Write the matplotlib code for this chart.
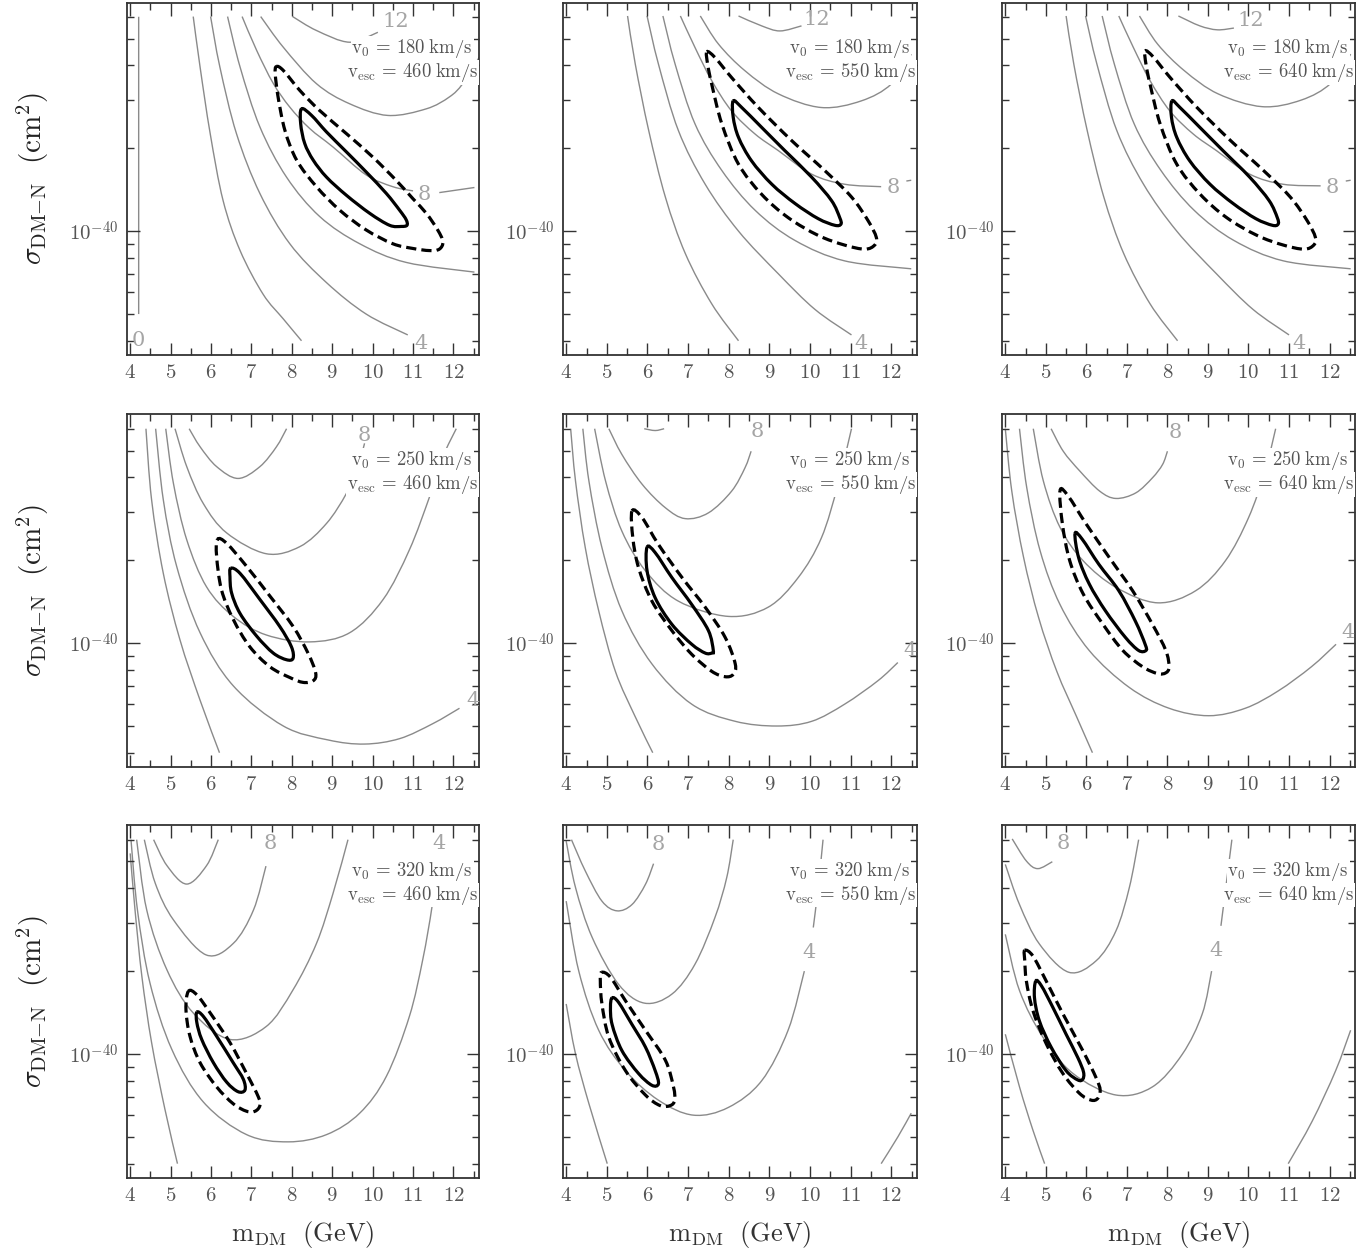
import numpy as np
import matplotlib
matplotlib.use("Agg")
import matplotlib.pyplot as plt
from matplotlib.path import Path
from matplotlib.patches import PathPatch
from matplotlib.ticker import FixedLocator, NullFormatter, FixedFormatter

plt.rcParams['mathtext.fontset'] = 'cm'
plt.rcParams['font.family'] = 'serif'

# halo parameters of each row / column
V0 = [180, 250, 320]
VESC = [460, 550, 640]

# all cross sections in units of 1e-40 cm^2, masses in GeV
# ---------------- row 1, v0 = 180 ----------------
gray_11 = [
    ([4.21, 4.21], [6.0, 0.50]),
    ([5.56, 5.73, 5.98, 6.30, 6.72, 7.29, 7.79, 8.24], [6.01, 3.94, 2.26, 1.29, 0.85, 0.59, 0.48, 0.40]),
    ([5.99, 6.22, 6.63, 7.21, 7.95, 8.86, 9.84, 10.87], [6.01, 3.94, 2.26, 1.37, 0.90, 0.65, 0.50, 0.42]),
    ([6.41, 6.72, 7.21, 7.87, 8.69, 9.68, 10.83, 12.52], [6.01, 3.94, 2.39, 1.57, 1.13, 0.90, 0.77, 0.71]),
    ([6.77, 7.13, 7.54, 7.95, 8.44, 9.02, 9.84, 10.50, 11.0], [6.01, 4.53, 3.44, 2.82, 2.36, 2.02, 1.60, 1.45, 1.40]),
    ([11.65, 12.52], [1.38, 1.44]),
    ([7.23, 7.79, 8.61, 9.43, 10.38, 11.33, 11.90, 12.23, 12.64], [6.01, 4.65, 3.43, 2.90, 2.63, 2.78, 3.07, 3.43, 4.28]),
    ([8.02, 8.61, 9.43, 10.13], [6.01, 5.35, 4.85, 5.27]),
]
labels_11 = [('0', 4.21, 0.40), ('4', 11.20, 0.39), ('8', 11.28, 1.36), ('12', 10.58, 5.78)]
solid_11_m = [8.24, 8.49, 8.86, 9.35, 9.84, 10.34, 10.67, 10.83, 10.85, 10.71, 10.42, 9.93, 9.35, 8.86, 8.53, 8.32, 8.22, 8.24]
solid_11_s = [2.78, 2.63, 2.29, 1.94, 1.64, 1.37, 1.19, 1.10, 1.05, 1.04, 1.05, 1.16, 1.35, 1.57, 1.81, 2.08, 2.45, 2.78]
dash_11_m = [7.62, 7.79, 8.20, 8.69, 9.35, 10.0, 10.58, 11.0, 11.33, 11.61, 11.74, 11.65, 11.41, 11.0, 10.50, 9.84, 9.19, 8.61, 8.12, 7.83, 7.66, 7.59, 7.62]
dash_11_s = [3.96, 3.83, 3.24, 2.74, 2.26, 1.86, 1.53, 1.31, 1.16, 1.01, 0.915, 0.86, 0.85, 0.865, 0.90, 1.01, 1.19, 1.45, 1.81, 2.32, 3.07, 3.73, 3.96]

gray_12 = [
    ([5.51, 5.70, 6.03, 6.44, 6.93, 7.58, 8.24], [6.04, 4.04, 2.32, 1.33, 0.83, 0.545, 0.40]),
    ([5.99, 6.27, 6.76, 7.42, 8.24, 9.22, 10.12, 11.02], [6.04, 4.04, 2.32, 1.48, 1.0, 0.70, 0.52, 0.42]),
    ([6.38, 6.68, 7.17, 7.83, 8.65, 9.63, 10.85, 12.49], [6.04, 4.04, 2.45, 1.66, 1.19, 0.925, 0.78, 0.73]),
    ([6.81, 7.17, 7.58, 8.07, 8.65, 9.22, 10.04, 10.85, 11.75], [6.04, 4.64, 3.52, 2.73, 2.25, 1.96, 1.61, 1.48, 1.45]),
    ([12.37, 12.49], [1.52, 1.53]),
    ([7.30, 7.75, 8.40, 9.22, 10.28, 11.26, 12.0, 12.49], [6.04, 4.77, 3.82, 3.15, 2.81, 2.97, 3.42, 4.39]),
    ([8.24, 8.81, 9.26, 9.79], [6.04, 5.56, 5.33, 5.56]),
]
labels_12 = [('4', 11.26, 0.39), ('8', 12.04, 1.44), ('12', 10.16, 5.88)]
solid_12_m = [8.11, 8.32, 8.81, 9.38, 10.04, 10.53, 10.73, 10.76, 10.61, 10.20, 9.63, 9.06, 8.56, 8.24, 8.11, 8.11]
solid_12_s = [2.97, 2.81, 2.38, 1.96, 1.57, 1.29, 1.12, 1.06, 1.05, 1.11, 1.26, 1.48, 1.80, 2.19, 2.59, 2.97]
dash_12_m = [7.46, 7.66, 8.07, 8.73, 9.55, 10.36, 11.02, 11.43, 11.63, 11.59, 11.35, 10.85, 10.20, 9.46, 8.81, 8.24, 7.83, 7.58, 7.48, 7.46]
dash_12_s = [4.48, 4.27, 3.61, 2.81, 2.13, 1.66, 1.33, 1.09, 0.95, 0.89, 0.86, 0.89, 0.965, 1.12, 1.36, 1.75, 2.45, 3.42, 4.04, 4.48]

gray_13 = [
    ([5.50, 5.69, 6.02, 6.43, 6.92, 7.57, 8.25], [6.04, 4.04, 2.32, 1.33, 0.83, 0.545, 0.40]),
    ([5.98, 6.26, 6.75, 7.41, 8.23, 9.21, 10.11, 11.0], [6.04, 4.04, 2.32, 1.48, 1.0, 0.70, 0.52, 0.42]),
    ([6.39, 6.69, 7.18, 7.84, 8.66, 9.64, 10.86, 12.52], [6.04, 4.04, 2.45, 1.66, 1.19, 0.925, 0.78, 0.73]),
    ([6.80, 7.16, 7.57, 8.06, 8.64, 9.21, 10.03, 10.85, 11.78], [6.04, 4.64, 3.52, 2.73, 2.25, 1.96, 1.61, 1.48, 1.46]),
    ([12.40, 12.52], [1.52, 1.53]),
    ([7.31, 7.76, 8.42, 9.25, 10.34, 11.30, 12.03, 12.52], [6.04, 4.77, 3.82, 3.15, 2.83, 2.99, 3.44, 4.39]),
    ([8.27, 8.80, 9.23, 9.64], [6.04, 5.56, 5.38, 5.46]),
]
labels_13 = [('4', 11.24, 0.39), ('8', 12.06, 1.44), ('12', 10.05, 5.80)]
solid_13_m = [8.11, 8.31, 8.80, 9.37, 10.03, 10.51, 10.71, 10.73, 10.59, 10.18, 9.62, 9.05, 8.55, 8.23, 8.10, 8.11]
solid_13_s = [2.97, 2.81, 2.38, 1.96, 1.57, 1.29, 1.12, 1.06, 1.05, 1.11, 1.26, 1.48, 1.80, 2.19, 2.59, 2.97]
dash_13_m = [7.45, 7.65, 8.06, 8.73, 9.56, 10.37, 11.03, 11.45, 11.65, 11.61, 11.37, 10.86, 10.21, 9.46, 8.81, 8.23, 7.82, 7.57, 7.47, 7.45]
dash_13_s = [4.51, 4.29, 3.62, 2.81, 2.13, 1.66, 1.33, 1.09, 0.95, 0.89, 0.86, 0.89, 0.965, 1.12, 1.36, 1.75, 2.45, 3.42, 4.04, 4.51]

# ---------------- row 2, v0 = 250 ----------------
gray_21 = [
    ([4.39, 4.53, 4.82, 5.23, 5.73, 6.21], [6.0, 3.31, 1.79, 1.03, 0.62, 0.40]),
    ([4.63, 4.82, 5.15, 5.73, 6.55, 7.79, 8.90, 9.80, 10.67, 11.49, 12.15], [6.0, 3.31, 1.90, 1.09, 0.70, 0.50, 0.445, 0.43, 0.45, 0.51, 0.58]),
    ([4.88, 5.07, 5.40, 5.89, 6.55, 7.37, 8.44, 9.43, 10.26, 10.91, 11.41, 11.74, 12.07], [6.0, 3.80, 2.37, 1.60, 1.25, 1.07, 1.01, 1.09, 1.44, 2.18, 3.40, 4.75, 6.0]),
    ([5.11, 5.40, 5.81, 6.39, 7.37, 8.20, 8.86, 9.35, 9.64, 9.80], [6.0, 4.37, 3.21, 2.51, 2.11, 2.24, 2.72, 3.49, 4.37, 5.31]),
    ([5.46, 5.73, 6.14, 6.67, 7.21, 7.62, 7.87], [6.0, 5.16, 4.37, 3.96, 4.37, 5.16, 6.0]),
]
labels_21 = [('4', 12.48, 0.62), ('8', 9.80, 5.69)]
solid_21_m = [6.49, 6.72, 7.21, 7.70, 7.99, 8.03, 7.87, 7.54, 7.13, 6.72, 6.51, 6.47, 6.49]
solid_21_s = [1.87, 1.79, 1.44, 1.15, 0.97, 0.88, 0.87, 0.92, 1.06, 1.28, 1.52, 1.74, 1.87]
dash_21_m = [6.16, 6.39, 6.88, 7.46, 8.03, 8.40, 8.59, 8.53, 8.28, 7.95, 7.46, 6.96, 6.55, 6.26, 6.14, 6.16]
dash_21_s = [2.38, 2.30, 1.90, 1.48, 1.15, 0.92, 0.78, 0.73, 0.72, 0.75, 0.82, 0.97, 1.22, 1.56, 2.06, 2.38]

gray_22 = [
    ([4.11, 4.23, 4.47, 4.80, 5.21, 5.70, 6.13], [6.0, 3.87, 2.22, 1.31, 0.79, 0.54, 0.40]),
    ([4.41, 4.56, 4.88, 5.37, 6.11, 7.09, 8.16, 9.18, 10.04, 10.85, 11.67, 12.16], [6.0, 3.87, 2.22, 1.31, 0.84, 0.60, 0.52, 0.50, 0.52, 0.60, 0.73, 0.85]),
    ([4.70, 4.97, 5.37, 5.95, 6.76, 7.99, 8.97, 9.71, 10.28, 10.69, 11.02], [6.0, 3.87, 2.55, 1.83, 1.42, 1.25, 1.35, 1.73, 2.41, 3.77, 6.0]),
    ([5.05, 5.37, 5.87, 6.44, 6.93, 7.50, 8.07, 8.40, 8.55], [6.0, 4.84, 3.77, 3.10, 2.83, 2.97, 3.56, 4.33, 4.97]),
    ([5.92, 6.19, 6.41], [6.0, 5.91, 6.0]),
]
labels_22 = [('4', 12.45, 0.94), ('8', 8.69, 5.88)]
solid_22_m = [5.99, 6.19, 6.60, 7.09, 7.50, 7.62, 7.58, 7.42, 7.09, 6.60, 6.19, 5.99, 5.99]
solid_22_s = [2.23, 2.13, 1.73, 1.38, 1.11, 0.94, 0.92, 0.92, 0.99, 1.17, 1.46, 1.83, 2.23]
dash_22_m = [5.62, 5.87, 6.27, 6.85, 7.42, 7.91, 8.16, 8.11, 7.91, 7.58, 7.09, 6.60, 6.11, 5.78, 5.64, 5.62]
dash_22_s = [3.02, 2.85, 2.28, 1.73, 1.35, 1.05, 0.84, 0.77, 0.755, 0.79, 0.91, 1.11, 1.42, 1.88, 2.41, 3.02]

gray_23 = [
    ([4.0, 4.16, 4.45, 4.82, 5.27, 5.76, 6.15], [6.0, 3.56, 2.05, 1.24, 0.79, 0.54, 0.40]),
    ([4.35, 4.53, 4.86, 5.35, 6.07, 7.06, 8.04, 9.02, 9.92, 10.73, 11.55, 12.16], [6.0, 3.66, 2.16, 1.38, 0.94, 0.69, 0.58, 0.545, 0.58, 0.67, 0.82, 0.99]),
    ([4.69, 4.94, 5.35, 5.92, 6.74, 7.76, 8.70, 9.43, 10.0, 10.41, 10.67], [6.0, 3.87, 2.63, 1.99, 1.59, 1.40, 1.55, 1.99, 2.85, 4.21, 6.0]),
    ([5.13, 5.43, 5.84, 6.33, 6.73, 7.22, 7.63, 7.88, 8.0], [6.0, 4.97, 4.21, 3.56, 3.35, 3.51, 3.98, 4.45, 4.97]),
]
labels_23 = [('4', 12.45, 1.09), ('8', 8.19, 5.80)]
solid_23_m = [5.72, 5.90, 6.31, 6.80, 7.21, 7.45, 7.47, 7.29, 6.96, 6.47, 6.07, 5.81, 5.72]
solid_23_s = [2.50, 2.38, 1.93, 1.55, 1.20, 0.99, 0.94, 0.94, 1.05, 1.31, 1.64, 2.04, 2.50]
dash_23_m = [5.35, 5.55, 6.0, 6.57, 7.14, 7.63, 7.96, 8.04, 7.96, 7.76, 7.39, 6.90, 6.41, 5.92, 5.59, 5.41, 5.35]
dash_23_s = [3.58, 3.42, 2.70, 2.04, 1.55, 1.17, 0.94, 0.82, 0.78, 0.775, 0.82, 0.94, 1.17, 1.51, 1.99, 2.70, 3.58]

# ---------------- row 3, v0 = 320 ----------------
gray_31 = [
    ([4.0, 4.12, 4.29, 4.53, 4.86, 5.17], [5.35, 3.33, 1.91, 1.10, 0.63, 0.40]),
    ([4.02, 4.18, 4.49, 5.03, 5.81, 6.88, 7.91, 8.86, 9.68, 10.34, 10.91, 11.24, 11.47, 11.57], [6.0, 3.33, 1.81, 1.04, 0.67, 0.51, 0.48, 0.51, 0.61, 0.83, 1.37, 2.20, 3.43, 4.65]),
    ([4.16, 4.41, 4.91, 5.56, 6.47, 7.37, 8.03, 8.61, 9.02, 9.39], [6.0, 3.33, 2.02, 1.41, 1.13, 1.26, 1.71, 2.52, 3.83, 6.0]),
    ([4.35, 4.62, 5.07, 5.88, 6.55, 7.05, 7.36], [6.0, 4.17, 3.07, 2.29, 2.52, 3.33, 4.81]),
    ([4.58, 4.91, 5.40, 5.89, 6.18], [6.0, 4.83, 4.14, 4.83, 6.0]),
]
labels_31 = [('4', 11.64, 5.81), ('8', 7.47, 5.81)]
solid_31_m = [5.65, 5.81, 6.14, 6.55, 6.80, 6.84, 6.67, 6.39, 6.06, 5.77, 5.65, 5.65]
solid_31_s = [1.42, 1.37, 1.16, 0.93, 0.81, 0.74, 0.73, 0.79, 0.93, 1.13, 1.30, 1.42]
dash_31_m = [5.44, 5.65, 5.98, 6.47, 6.88, 7.17, 7.21, 7.09, 6.88, 6.55, 6.14, 5.73, 5.48, 5.38, 5.44]
dash_31_s = [1.69, 1.64, 1.41, 1.10, 0.85, 0.70, 0.65, 0.62, 0.62, 0.66, 0.76, 0.93, 1.16, 1.45, 1.69]

gray_32 = [
    ([4.0, 4.23, 4.56, 5.01], [1.52, 1.0, 0.66, 0.40]),
    ([11.75, 12.16, 12.49], [0.40, 0.50, 0.61]),
    ([4.0, 4.31, 4.80, 5.46, 6.27, 7.13, 7.99, 8.81, 9.46, 9.86], [3.59, 2.0, 1.22, 0.87, 0.68, 0.60, 0.64, 0.80, 1.22, 2.0]),
    ([10.08, 10.20, 10.32], [2.88, 4.02, 6.0]),
    ([4.0, 4.23, 4.64, 5.29, 5.93, 6.60, 7.17, 7.66, 7.95, 8.11], [5.93, 4.02, 2.65, 1.79, 1.53, 1.65, 2.12, 3.13, 4.37, 6.0]),
    ([4.13, 4.47, 4.88, 5.25, 5.62, 5.95, 6.15], [6.0, 4.62, 3.59, 3.31, 3.49, 4.13, 4.91]),
]
labels_32 = [('4', 9.98, 2.34), ('8', 6.27, 5.77)]
solid_32_m = [5.13, 5.29, 5.62, 5.95, 6.19, 6.27, 6.11, 5.78, 5.37, 5.13, 5.09, 5.13]
solid_32_s = [1.60, 1.54, 1.28, 1.06, 0.87, 0.78, 0.77, 0.85, 1.03, 1.28, 1.48, 1.60]
dash_32_m = [4.87, 5.09, 5.46, 5.95, 6.44, 6.64, 6.67, 6.56, 6.31, 5.95, 5.46, 5.05, 4.88, 4.84, 4.87]
dash_32_s = [1.98, 1.90, 1.56, 1.22, 0.95, 0.76, 0.68, 0.65, 0.65, 0.71, 0.87, 1.15, 1.52, 1.84, 1.98]

gray_33 = [
    ([4.0, 4.35, 4.68, 4.97], [1.18, 0.76, 0.53, 0.40]),
    ([10.98, 11.57, 12.15, 12.52], [0.40, 0.57, 0.87, 1.22]),
    ([4.0, 4.35, 4.93, 5.67, 6.73, 7.63, 8.37, 8.86, 9.09], [2.72, 1.70, 1.15, 0.85, 0.71, 0.76, 1.0, 1.40, 2.0]),
    ([9.32, 9.44, 9.59], [2.92, 4.02, 6.0]),
    ([4.0, 4.35, 4.84, 5.57, 6.24, 6.73, 7.06, 7.29], [4.88, 3.49, 2.51, 1.98, 2.18, 2.80, 4.02, 6.0]),
    ([4.17, 4.52, 4.80, 5.16], [6.04, 5.02, 4.71, 4.99]),
]
labels_33 = [('4', 9.21, 2.37), ('8', 5.44, 5.80)]
solid_33_m = [4.75, 4.89, 5.17, 5.50, 5.79, 5.93, 5.91, 5.79, 5.50, 5.13, 4.84, 4.72, 4.75]
solid_33_s = [1.84, 1.77, 1.48, 1.18, 0.97, 0.86, 0.81, 0.805, 0.87, 1.06, 1.32, 1.60, 1.84]
dash_33_m = [4.48, 4.68, 5.01, 5.42, 5.91, 6.24, 6.34, 6.28, 6.12, 5.83, 5.42, 5.01, 4.68, 4.52, 4.48, 4.48]
dash_33_s = [2.38, 2.27, 1.84, 1.40, 1.03, 0.82, 0.74, 0.69, 0.68, 0.72, 0.85, 1.09, 1.44, 1.84, 2.18, 2.38]

panels = [
    [(gray_11, labels_11, solid_11_m, solid_11_s, dash_11_m, dash_11_s),
     (gray_12, labels_12, solid_12_m, solid_12_s, dash_12_m, dash_12_s),
     (gray_13, labels_13, solid_13_m, solid_13_s, dash_13_m, dash_13_s)],
    [(gray_21, labels_21, solid_21_m, solid_21_s, dash_21_m, dash_21_s),
     (gray_22, labels_22, solid_22_m, solid_22_s, dash_22_m, dash_22_s),
     (gray_23, labels_23, solid_23_m, solid_23_s, dash_23_m, dash_23_s)],
    [(gray_31, labels_31, solid_31_m, solid_31_s, dash_31_m, dash_31_s),
     (gray_32, labels_32, solid_32_m, solid_32_s, dash_32_m, dash_32_s),
     (gray_33, labels_33, solid_33_m, solid_33_s, dash_33_m, dash_33_s)],
]

UNIT = 1e-40
lefts = [0.0926, 0.4106, 0.7309]
widths = [0.2567, 0.2582, 0.2575]
bottoms = [0.7162, 0.3869, 0.0584]
height = 0.2818
gray = '#8a8a8a'
label_gray = '#a5a5a5'


def smooth_curve(ax, m, s, closed=False, **kw):
    # Catmull-Rom through the read points, drawn as cubic Bezier segments
    # in (m, log sigma) space so it stays smooth on the log axis
    P = np.column_stack([m, np.log10(s)])
    if closed and np.allclose(P[0], P[-1]):
        P = P[:-1]
    n = len(P)
    verts = [P[0]]
    codes = [Path.MOVETO]
    nseg = n if closed else n - 1
    for i in range(nseg):
        p1 = P[i]
        p2 = P[(i + 1) % n]
        p0 = P[i - 1] if (closed or i > 0) else p1
        p3 = P[(i + 2) % n] if (closed or i + 2 < n) else p2
        verts += [p1 + (p2 - p0) / 6.0, p2 - (p3 - p1) / 6.0, p2]
        codes += [Path.CURVE4] * 3
    V = np.array(verts)
    V[:, 1] = 10 ** V[:, 1] * UNIT
    ax.add_patch(PathPatch(Path(V, codes), fill=False, **kw))


fig = plt.figure(figsize=(13.71, 12.51), dpi=100)

for r in range(3):
    for c in range(3):
        g, labs, sm, ss, dm, ds = panels[r][c]
        ax = fig.add_axes([lefts[c], bottoms[r], widths[c], height])
        ax.set_yscale('log')
        ax.set_xlim(3.92, 12.63)
        ax.set_ylim(0.355 * UNIT, 6.76 * UNIT)
        for m, s in g:
            smooth_curve(ax, m, s, edgecolor=gray, lw=1.0)
        for t, m, s in labs:
            ax.text(m, s * UNIT, t, color=label_gray, fontsize=15,
                    ha='center', va='center')
        smooth_curve(ax, sm, ss, closed=True, edgecolor='black', lw=2.3)
        smooth_curve(ax, dm, ds, closed=True, edgecolor='black', lw=2.3,
                     linestyle=(0, (3.2, 1.6)))

        ax.xaxis.set_major_locator(FixedLocator(range(4, 13)))
        ax.xaxis.set_minor_locator(FixedLocator([k + 0.5 for k in range(4, 13)]))
        ax.xaxis.set_major_formatter(FixedFormatter([r'$\mathrm{%d}$' % k for k in range(4, 13)]))
        ax.yaxis.set_major_locator(FixedLocator([UNIT]))
        ax.yaxis.set_major_formatter(FixedFormatter([r'$10^{-40}$']))
        ax.yaxis.set_minor_locator(FixedLocator([k * 0.1 * UNIT for k in range(4, 10)] +
                                                [k * UNIT for k in range(2, 7)]))
        ax.yaxis.set_minor_formatter(NullFormatter())
        ax.tick_params(which='both', direction='in', top=True, right=True,
                       color='#333333', width=1.0)
        ax.tick_params(which='major', length=9, labelsize=15, labelcolor='#555555', pad=6)
        ax.tick_params(which='minor', length=5)
        for sp in ax.spines.values():
            sp.set_linewidth(1.3)
            sp.set_color('#333333')

        box = dict(facecolor='white', edgecolor='none', pad=0.5)
        ax.text(0.81, 0.87, r'$\mathrm{v_0\,=\,%d\;km/s}$' % V0[r], transform=ax.transAxes,
                fontsize=13.5, color='#555555', ha='center', va='center', bbox=box)
        ax.text(0.812, 0.802, r'$\mathrm{v_{esc}\,=\,%d\;km/s}$' % VESC[c], transform=ax.transAxes,
                fontsize=13.5, color='#555555', ha='center', va='center', bbox=box)

for r in range(3):
    fig.text(0.024, bottoms[r] + height / 2, r'$\sigma_{\mathrm{DM{-}N}}\ \ (\mathrm{cm}^2)$',
             rotation=90, fontsize=21, ha='center', va='center', color='#222222')
for c in range(3):
    fig.text(lefts[c] + widths[c] / 2, 0.013, r'$\mathrm{m_{DM}\ \ (GeV)}$',
             fontsize=19, ha='center', va='center', color='#333333')

fig.savefig('out.png', dpi=100)
